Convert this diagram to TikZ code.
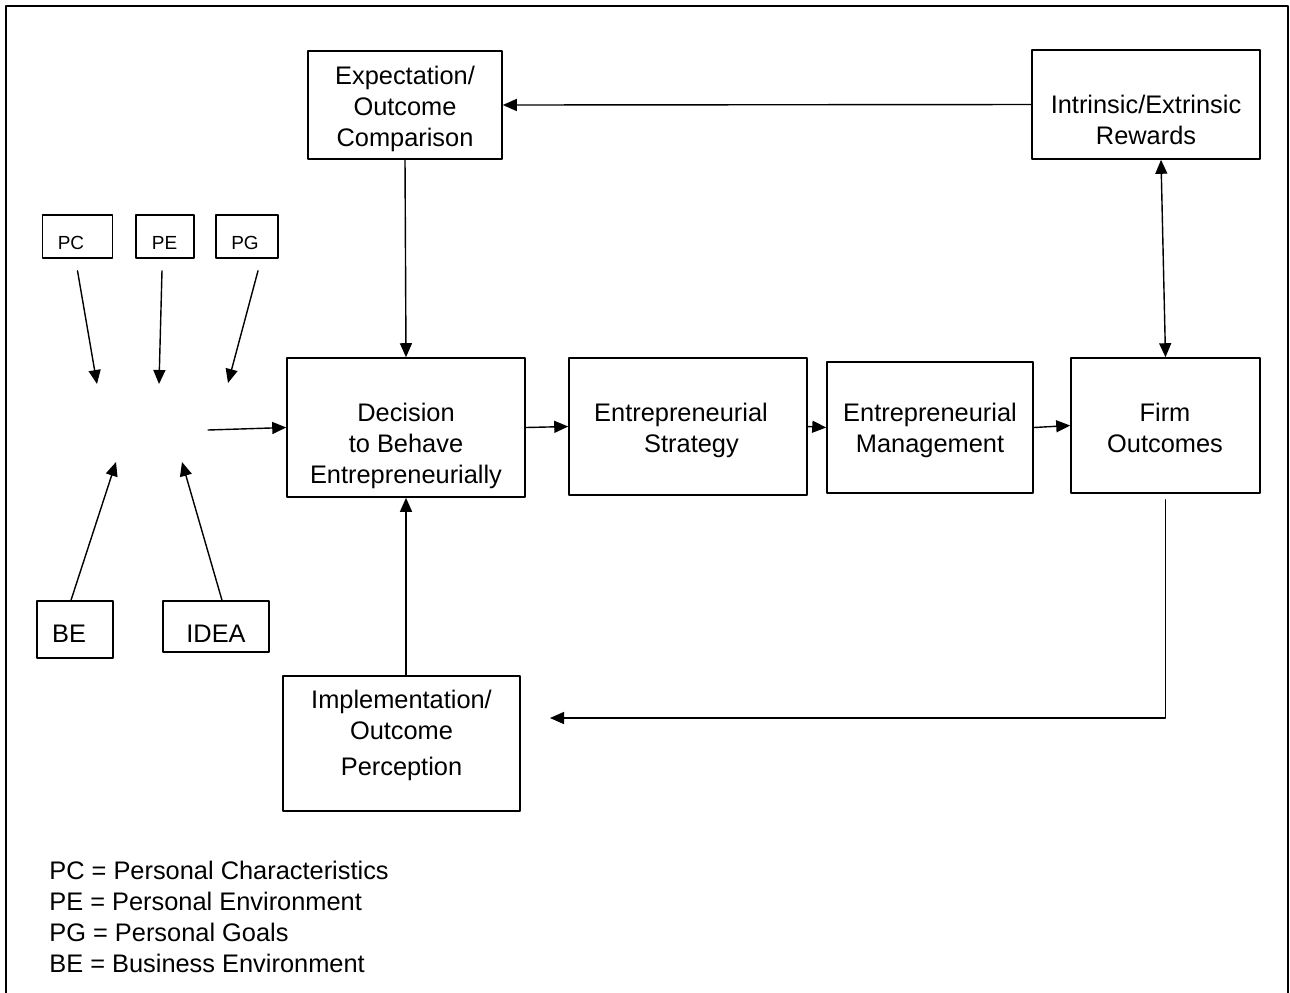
\documentclass[tikz,border=0pt]{standalone}
\usepackage{fontspec}
\setmainfont{Liberation Sans}
\usetikzlibrary{arrows.meta}

\begin{document}
\begin{tikzpicture}[line cap=round,line join=round,>={Triangle[length=0.28cm,width=0.24cm]},x=0.02cm,y=-0.02cm,
	box/.style 2 args={draw,line width=0.9pt,inner sep=0pt,minimum width=#1*0.02cm,minimum height=#2*0.02cm},
	txt/.style={align=center,inner sep=0pt,font=\fontsize{14.45}{17.5}\selectfont},
	smalltxt/.style={inner sep=0pt,font=\fontsize{10.8}{12}\selectfont},
	link/.style={line width=0.8pt}]
		\useasboundingbox (0,0) rectangle (1290,992);
		\draw [line width=1.1pt] (6,1010)-- (6,6)-- (1288,6)-- (1288,1010);
		\node [box={194}{108}] (expect) at (405,105) {};
		\node [box={228}{109}] (reward) at (1146,104.5) {};
		\node [box={70}{43}] (pc) at (77.5,236.5) {};
		\node [box={58}{43}] (pe) at (165,236.5) {};
		\node [box={62}{43}] (pg) at (247,236.5) {};
		\node [box={238}{139}] (decision) at (406,427.5) {};
		\node [box={238}{137}] (strategy) at (688,426.5) {};
		\node [box={206}{131}] (mgmt) at (930,427.5) {};
		\node [box={189}{135}] (firm) at (1165.5,425.5) {};
		\node [box={76}{57}] (be) at (75,629.5) {};
		\node [box={106}{51}] (idea) at (216,626.5) {};
		\node [box={237}{135}] (impl) at (401.5,743.5) {};
		\node [txt,anchor=north] (expecttext) at (405,66) {Expectation/\\Outcome\\Comparison};
		\node [txt,anchor=north] (rewardtext) at (1146,95) {Intrinsic/Extrinsic\\Rewards};
		\node [smalltxt] (pctext) at (71,242.5) {PC};
		\node [smalltxt] (petext) at (164.5,242.5) {PE};
		\node [smalltxt] (pgtext) at (245,242.5) {PG};
		\node [txt,anchor=north] (decisiontext) at (406,403) {Decision\\to Behave\\Entrepreneurially};
		\node [txt,anchor=north] (strategytext) at (681,403) {Entrepreneurial\\\hspace*{0.42cm}Strategy};
		\node [txt,anchor=north] (mgmttext) at (930,403) {Entrepreneurial\\Management};
		\node [txt,anchor=north] (firmtext) at (1165,403) {Firm\\Outcomes};
		\node [txt] (betext) at (69,634) {BE};
		\node [txt] (ideatext) at (216,634) {IDEA};
		\node [txt,anchor=north] (impltext) at (401.5,690) {Implementation/\\Outcome\\[0.1cm]Perception};
		\node [txt,align=left,anchor=north west] (legend) at (49,861) {PC = Personal Characteristics\\PE = Personal Environment\\PG = Personal Goals\\BE = Business Environment};
		\coordinate (pcin) at (97,384);
		\coordinate (pein) at (159,384);
		\coordinate (pgin) at (228,383);
		\coordinate (bein) at (116,462);
		\coordinate (ideain) at (182,462);
		\coordinate (hubout) at (208,430);
		\coordinate (implin) at (550,718);
		\draw [link,->] (reward.west)-- (expect.east);
		\draw [link,->] (expect.south)-- (decision.north);
		\draw [link,<->] ([shift={(15,0)}]reward.south)-- (firm.north);
		\draw [link,->] (decision.east)-- (strategy.west);
		\draw [link,->] (strategy.east)-- (mgmt.west);
		\draw [link,->] (mgmt.east)-- (firm.west);
		\draw [link,->] ([shift={(0,6)}]firm.south) |- (implin);
		\draw [link,->] (decision.south |- impl.north)-- (decision.south);
		\draw [link,->] (hubout)-- (decision.west);
		\draw [link,->] ([shift={(0,12)}]pc.south)-- (pcin);
		\draw [link,->] ([shift={(-3,12)}]pe.south)-- (pein);
		\draw [link,->] ([shift={(11,12)}]pg.south)-- (pgin);
		\draw [link,->] ([shift={(-4,0)}]be.north)-- (bein);
		\draw [link,->] ([shift={(6,0)}]idea.north)-- (ideain);
	\end{tikzpicture}
\end{document}
